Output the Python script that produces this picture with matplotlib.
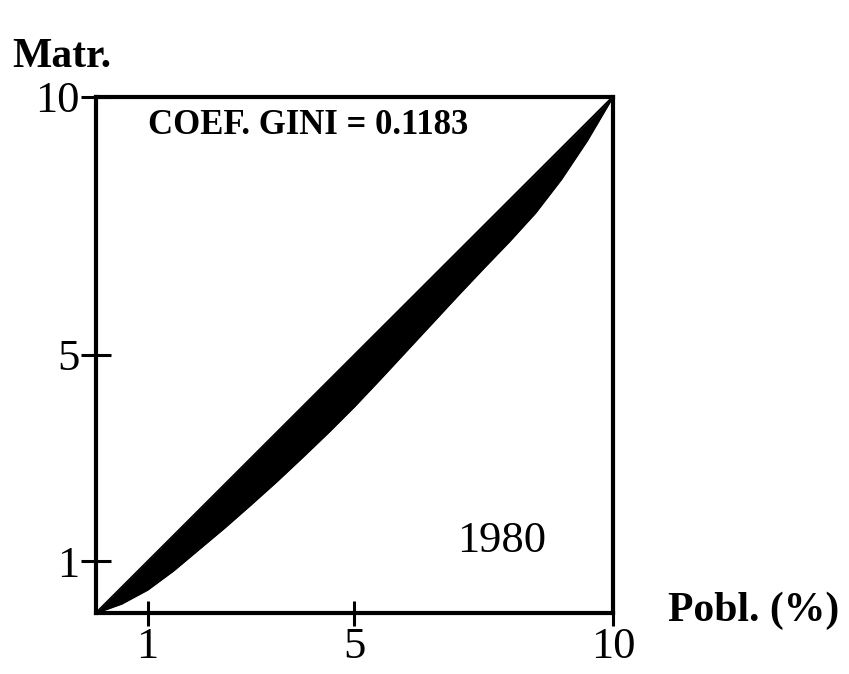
import numpy as np
import matplotlib.pyplot as plt

# Lorenz curve (population % vs. enrolment %, in tenths)
pobl = [0, 0.5, 1, 1.5, 2, 2.5, 3, 3.5, 4, 4.5, 5, 5.5, 6, 6.5, 7, 7.5, 8, 8.5, 9, 9.5, 10]
matr = [0, 0.18, 0.45, 0.82, 1.24, 1.66, 2.1, 2.55, 3.02, 3.5, 4.0, 4.53,
        5.07, 5.61, 6.15, 6.68, 7.2, 7.75, 8.4, 9.15, 10]
ticks = [1, 5, 10]
tick_labels = ["1", "5", "10"]
gini = 0.1183
year = "1980"

plt.rcParams["font.family"] = ["Liberation Serif", "DejaVu Serif"]

fig = plt.figure(figsize=(8.49, 6.74), dpi=100)
ax = fig.add_axes([0.113, 0.0905, 0.609, 0.766])

x = np.array(pobl)
y = np.array(matr)
ax.fill_between(x, y, x, color="black", lw=0)
ax.plot(x, x, color="black", lw=1.5)
ax.plot(x, y, color="black", lw=1.5)

ax.set_xlim(0, 10)
ax.set_ylim(0, 10)
ax.set_xticks(ticks)
ax.set_xticklabels(tick_labels)
ax.set_yticks(ticks)
ax.set_yticklabels(tick_labels)

for s in ax.spines.values():
    s.set_linewidth(3)
ax.tick_params(axis="y", direction="inout", length=22, width=2.2, pad=1, labelsize=32)
ax.tick_params(axis="x", direction="inout", length=18, width=2.2, pad=1, labelsize=32)

ax.text(0.1, 0.945, f"COEF. GINI = {gini}", transform=ax.transAxes,
        fontsize=25, fontweight="bold", va="center", ha="left")
ax.text(0.785, 0.14, year, transform=ax.transAxes,
        fontsize=32, va="center", ha="center")

fig.text(0.014, 0.915, "Matr.", fontsize=30, fontweight="bold", va="center", ha="left")
fig.text(0.787, 0.094, "Pobl. (%)", fontsize=30, fontweight="bold", va="center", ha="left")

fig.savefig("out.png", dpi=100)
